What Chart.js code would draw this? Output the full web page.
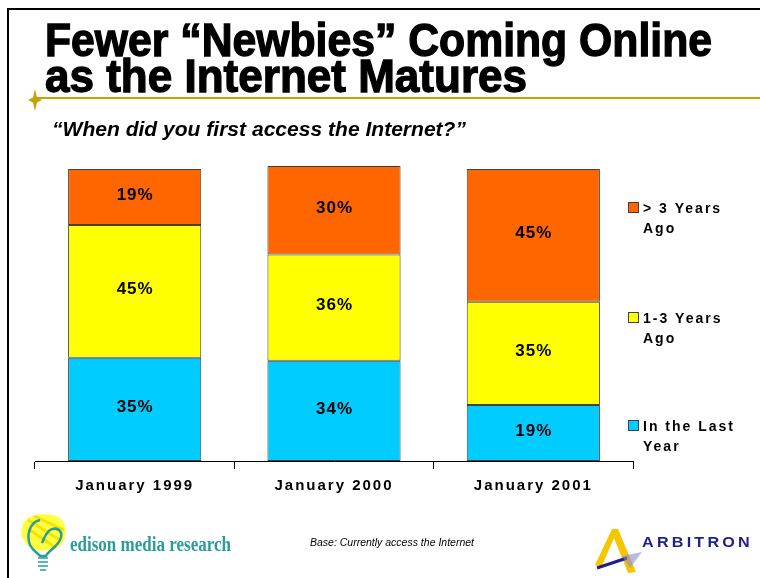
<!DOCTYPE html>
<html>
<head>
<meta charset="utf-8">
<script src="https://cdn.jsdelivr.net/npm/chart.js@4"></script>
<style>
  html,body{margin:0;padding:0;background:#fff;}
  #slide{position:relative;width:760px;height:578px;overflow:hidden;background:#fff;}
  #wrap{position:absolute;left:0;top:0;width:760px;height:578px;}
  .bl{position:absolute;left:7px;top:8px;width:2px;height:570px;background:#000;}
  .bt{position:absolute;left:7px;top:8px;width:753px;height:2px;background:#000;}
  .gold{position:absolute;left:35px;top:97px;width:725px;height:2px;background:#C8A000;}
  .fit{position:absolute;white-space:nowrap;transform-origin:0 0;}
  .title{font-family:"Liberation Sans",Arial,sans-serif;font-weight:bold;font-size:46px;line-height:46px;color:#000;-webkit-text-stroke:1.3px #000;}
  .sub{left:52px;top:117px;font-family:"Liberation Sans",Arial,sans-serif;font-weight:bold;font-style:italic;font-size:21px;line-height:24px;color:#000;}
  .base{left:310px;top:536px;font-family:"Liberation Sans",Arial,sans-serif;font-style:italic;font-size:11px;line-height:13px;color:#000;}
  .edison{left:70px;top:532px;font-family:"Liberation Serif","Times New Roman",serif;font-weight:bold;font-size:20px;line-height:24px;color:#2B9C9C;}
  .arb{left:642px;top:533px;font-family:"Liberation Sans",Arial,sans-serif;font-weight:bold;font-size:15px;line-height:18px;letter-spacing:3px;color:#1E1E8C;}
  svg.deco{position:absolute;left:0;top:0;}
</style>
</head>
<body>
<div id="slide">
  <div id="wrap"><canvas id="c"></canvas></div>
  <div class="bl"></div>
  <div class="bt"></div>
  <div class="gold"></div>
  <svg class="deco" width="760" height="578">
    <path d="M35 89 L37 97.5 L42 100 L37 102.5 L35 111 L33 102.5 L28 100 L33 97.5 Z" fill="#C8A000"/>
    <!-- bulb -->
    <path d="M24 522 C30 512, 55 512, 62 520 C68 528, 66 540, 60 546 C52 552, 36 552, 28 546 C20 538, 20 530, 24 522 Z" fill="#FFFF40"/>
    <path d="M28 520 L60 540 M30 530 L56 548 M34 516 L64 530" stroke="#F2E400" stroke-width="3"/>
    <path d="M40 520 C30 522, 26 535, 30 545 C33 551, 38 553, 40 556 L46 556 C48 551, 56 548, 60 540 C64 532, 58 526, 50 530 C46 533, 44 538, 42 543" fill="none" stroke="#2B9C9C" stroke-width="2.5"/>
    <path d="M38 558 L48 558 M38 562 L48 562 M38 566 L48 566 M40 570 L46 570" stroke="#2B9C9C" stroke-width="1.5"/>
    <!-- arbitron A -->
    <path d="M595 565 L612 529 L618 529 L636 572 L628 573 L614 538 L601 568 Z" fill="#F7C600"/>
    <path d="M597 568 L627 558" stroke="#1E1E8C" stroke-width="3"/>
    <path d="M622 556 L642 552 L630 568 Z" fill="#8C8CD0" opacity="0.6"/>
  </svg>
  <div class="fit title" style="left:45px;top:17px;" data-w="667">Fewer “Newbies” Coming Online</div>
  <div class="fit title" style="left:45px;top:53px;" data-w="482">as the Internet Matures</div>
  <div class="fit sub" data-w="414">“When did you first access the Internet?”</div>
  <div class="fit base" data-w="164">Base: Currently access the Internet</div>
  <div class="fit edison" data-w="161">edison media research</div>
  <div class="fit arb" data-w="111">ARBITRON</div>
</div>
<script>
const categories = ['January 1999', 'January 2000', 'January 2001'];
const lastYear = [35, 34, 19];
const oneToThreeYears = [45, 36, 35];
const moreThanThreeYears = [19, 30, 45];
const seriesNames = ['In the Last Year', '1-3 Years Ago', '> 3 Years Ago'];
const legendLines = [['In the Last', 'Year'], ['1-3 Years', 'Ago'], ['> 3 Years', 'Ago']];
const seriesColors = ['#00CCFF', '#FFFF00', '#FF6600'];

document.querySelectorAll('.fit').forEach(el => {
  const target = parseFloat(el.dataset.w);
  const w = el.getBoundingClientRect().width;
  if (w > 0) el.style.transform = 'scaleX(' + (target / w) + ')';
});

const labelPlugin = {
  id: 'segLabels',
  beforeDraw(chart) {
    chart.ctx.letterSpacing = '2px';
  },
  afterDatasetsDraw(chart) {
    const ctx = chart.ctx;
    ctx.save();
    ctx.font = 'bold 17px "Liberation Sans", Arial, sans-serif';
    ctx.letterSpacing = '1px';
    ctx.fillStyle = '#000';
    ctx.textAlign = 'center';
    ctx.textBaseline = 'middle';
    chart.data.datasets.forEach((ds, di) => {
      const meta = chart.getDatasetMeta(di);
      meta.data.forEach((el, i) => {
        const p = el.getProps(['x', 'y', 'base'], true);
        ctx.fillText(ds.data[i] + '%', p.x + 0.5, (p.y + p.base) / 2 - 2);
      });
    });
    ctx.restore();
  },
  afterDraw(chart) {
    const ctx = chart.ctx;
    ctx.save();
    ctx.font = 'bold 14px "Liberation Sans", Arial, sans-serif';
    ctx.letterSpacing = '2px';
    ctx.textAlign = 'left';
    ctx.textBaseline = 'alphabetic';
    const tops = [420, 312, 202];
    chart.data.datasets.forEach((ds, di) => {
      const y = tops[di];
      ctx.fillStyle = ds.backgroundColor;
      ctx.fillRect(628, y, 11, 11);
      ctx.strokeStyle = '#404040';
      ctx.lineWidth = 1;
      ctx.strokeRect(628.5, y + 0.5, 10, 10);
      ctx.fillStyle = '#000';
      legendLines[di].forEach((t, li) => {
        ctx.fillText(t, 643, y + 11 + li * 20);
      });
    });
    ctx.restore();
  }
};

const datasets = [lastYear, oneToThreeYears, moreThanThreeYears].map((vals, i) => ({
  label: seriesNames[i],
  data: vals,
  backgroundColor: seriesColors[i],
  borderColor: '#404040',
  borderWidth: 1,
  borderSkipped: false,
  categoryPercentage: 1.0,
  barPercentage: 0.668
}));

new Chart(document.getElementById('c'), {
  type: 'bar',
  data: { labels: categories, datasets },
  options: {
    responsive: true,
    maintainAspectRatio: false,
    animation: false,
    layout: { padding: { left: 35, right: 127, top: 166, bottom: 75 } },
    plugins: { legend: { display: false }, tooltip: { enabled: false } },
    scales: {
      x: {
        stacked: true,
        offset: true,
        grid: { display: true, drawOnChartArea: false, drawTicks: true, tickLength: 8, color: '#000', lineWidth: 1, offset: true },
        border: { display: true, color: '#000', width: 1 },
        ticks: { color: '#000', font: { family: '"Liberation Sans", Arial, sans-serif', size: 15, weight: 'bold' }, padding: 8, maxRotation: 0, autoSkip: false }
      },
      y: { stacked: true, display: false, min: 0, max: 100 }
    }
  },
  plugins: [labelPlugin]
});
</script>
</body>
</html>
